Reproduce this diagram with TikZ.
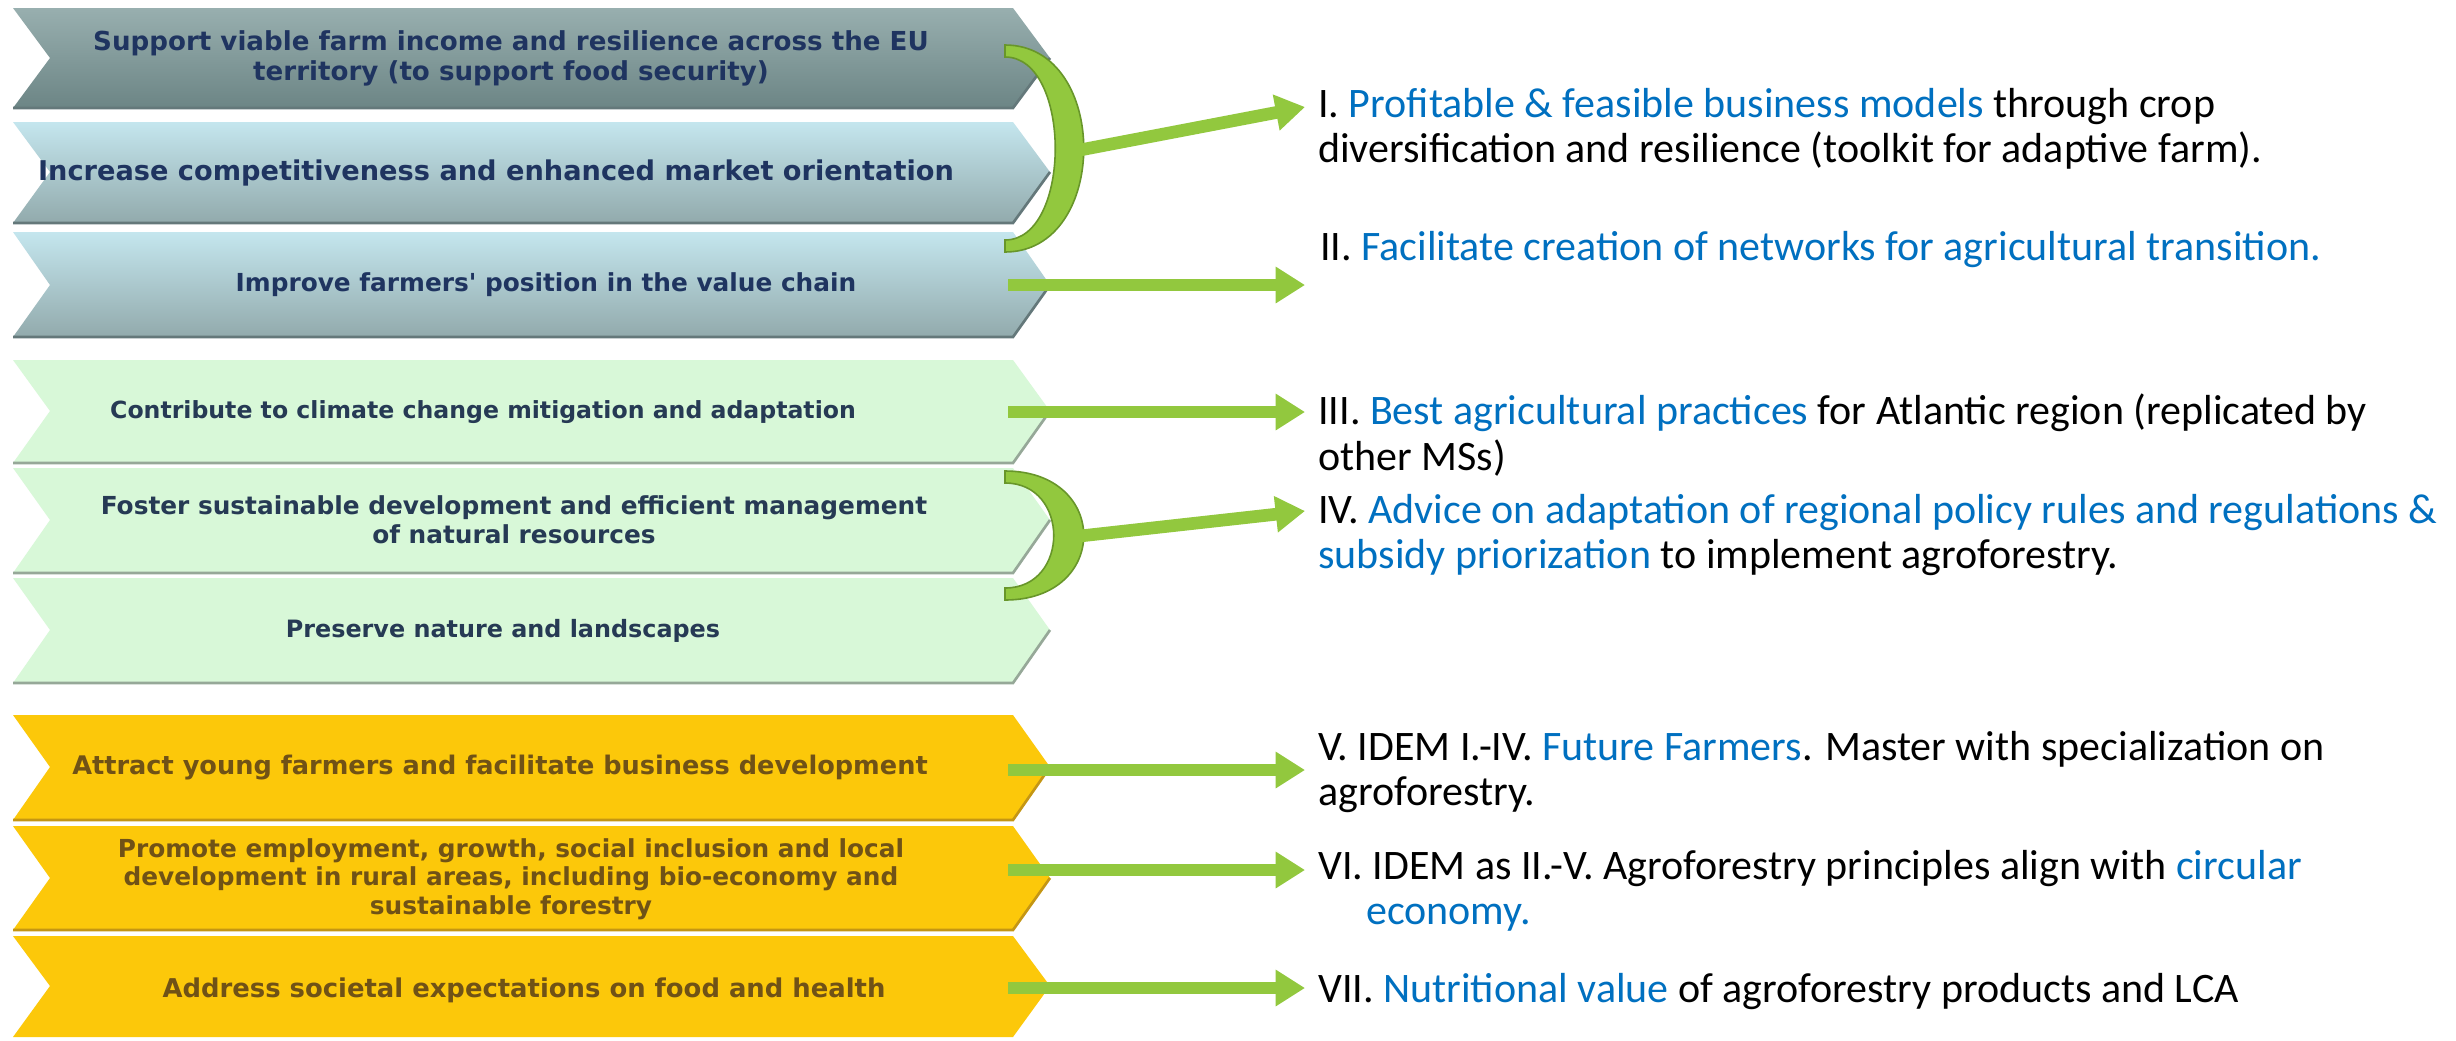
\documentclass[tikz,border=0pt]{standalone}
\usepackage{fontspec}
\setmainfont{Carlito}
\newfontfamily\goalfont{Carlito}
\newfontfamily\chevfont{DejaVu Sans}
\usetikzlibrary{arrows.meta}

\definecolor{goalblue}{RGB}{0,112,192}
\definecolor{arrowgreen}{RGB}{146,200,62}
\definecolor{bracketedge}{RGB}{104,150,42}
\definecolor{navytext}{RGB}{31,52,96}
\definecolor{slatetext}{RGB}{38,58,84}
\definecolor{browntext}{RGB}{112,82,22}
\definecolor{tealtop}{RGB}{152,175,175}
\definecolor{tealbot}{RGB}{108,133,133}
\definecolor{skytop}{RGB}{196,230,238}
\definecolor{skybot}{RGB}{146,170,172}
\definecolor{greyedge}{RGB}{100,120,122}
\definecolor{mintfill}{RGB}{216,248,216}
\definecolor{mintedge}{RGB}{150,168,152}
\definecolor{goldfill}{RGB}{252,200,10}
\definecolor{goldedge}{RGB}{196,150,20}

\tikzset{
  chevtext/.style={font=\chevfont\bfseries\fontsize{18.6}{21.5}\selectfont, text=navytext, align=center, inner sep=0pt},
  goaltext/.style={font=\goalfont\fontsize{31.5}{34}\selectfont, align=left, anchor=north west, inner sep=0pt},
  greenarrow/.style={draw=arrowgreen, line width=9.5pt, -{Triangle[length=22pt,width=26pt]}},
  crescent/.style={fill=arrowgreen, draw=bracketedge, line width=1.2pt},
  chevshadow/.style={line width=2pt}
}

\begin{document}
\begin{tikzpicture}[x=0.75pt,y=0.75pt,yscale=-1,xscale=1]
\useasboundingbox (0,0) rectangle (2456,1040);
\fill[white] (0,0) rectangle (2456,1040);

%Shape: Chevron [row 1]
\path[top color=tealtop, bottom color=tealbot] (13,8) -- (1013,8) -- (1050,58) -- (1013,108) -- (13,108) -- (50,58) -- cycle;
\draw[chevshadow, draw=greyedge] (13,108) -- (1013,108) -- (1050,58);
%Shape: Chevron [row 2]
\path[top color=skytop, bottom color=skybot] (13,122) -- (1013,122) -- (1050,172) -- (1013,223) -- (13,223) -- (50,172) -- cycle;
\draw[chevshadow, draw=greyedge] (13,223) -- (1013,223) -- (1050,172);
%Shape: Chevron [row 3]
\path[top color=skytop, bottom color=skybot] (13,232) -- (1013,232) -- (1050,285) -- (1013,337) -- (13,337) -- (50,285) -- cycle;
\draw[chevshadow, draw=greyedge] (13,337) -- (1013,337) -- (1050,285);
%Shape: Chevron [row 4]
\fill[mintfill] (13,360) -- (1013,360) -- (1050,411) -- (1013,463) -- (13,463) -- (50,411) -- cycle;
\draw[chevshadow, draw=mintedge] (13,463) -- (1013,463) -- (1050,411);
%Shape: Chevron [row 5]
\fill[mintfill] (13,468) -- (1013,468) -- (1050,520) -- (1013,573) -- (13,573) -- (50,520) -- cycle;
\draw[chevshadow, draw=mintedge] (13,573) -- (1013,573) -- (1050,520);
%Shape: Chevron [row 6]
\fill[mintfill] (13,578) -- (1013,578) -- (1050,630) -- (1013,683) -- (13,683) -- (50,630) -- cycle;
\draw[chevshadow, draw=mintedge] (13,683) -- (1013,683) -- (1050,630);
%Shape: Chevron [row 7]
\fill[goldfill] (13,715) -- (1013,715) -- (1050,767) -- (1013,820) -- (13,820) -- (50,767) -- cycle;
\draw[chevshadow, draw=goldedge] (13,820) -- (1013,820) -- (1050,767);
%Shape: Chevron [row 8]
\fill[goldfill] (13,826) -- (1013,826) -- (1050,878) -- (1013,930) -- (13,930) -- (50,878) -- cycle;
\draw[chevshadow, draw=goldedge] (13,930) -- (1013,930) -- (1050,878);
%Shape: Chevron [row 9]
\fill[goldfill] (13,936) -- (1013,936) -- (1050,986) -- (1013,1037) -- (13,1037) -- (50,986) -- cycle;

% Text Node
\node[chevtext, font=\chevfont\bfseries\fontsize{19.6}{22.5}\selectfont] (c1) at (511,58) {Support viable farm income and resilience across the EU\\territory (to support food security)};
% Text Node
\node[chevtext, font=\chevfont\bfseries\fontsize{20.4}{24}\selectfont] (c2) at (496,173) {Increase competitiveness and enhanced market orientation};
% Text Node
\node[chevtext] (c3) at (546,285) {Improve farmers' position in the value chain};
% Text Node
\node[chevtext, text=slatetext, font=\chevfont\bfseries\fontsize{17.7}{21}\selectfont] (c4) at (483,412) {Contribute to climate change mitigation and adaptation};
% Text Node
\node[chevtext, text=slatetext] (c5) at (514,520) {Foster sustainable development and efficient management\\of natural resources};
% Text Node
\node[chevtext, text=slatetext, font=\chevfont\bfseries\fontsize{17.9}{21}\selectfont] (c6) at (503,631) {Preserve nature and landscapes};
% Text Node
\node[chevtext, text=browntext, font=\chevfont\bfseries\fontsize{19.2}{22}\selectfont] (c7) at (500,768) {Attract young farmers and facilitate business development};
% Text Node
\node[chevtext, text=browntext] (c8) at (511,879) {Promote employment, growth, social inclusion and local\\development in rural areas, including bio-economy and\\sustainable forestry};
% Text Node
\node[chevtext, text=browntext, font=\chevfont\bfseries\fontsize{19.4}{22}\selectfont] (c9) at (524,990) {Address societal expectations on food and health};

%Shape: Crescent [rows 1-2]
\draw[crescent] (1005,45) .. controls (1110,45) and (1110,252) .. (1005,252) -- (1005,240) .. controls (1072,240) and (1072,57) .. (1005,57) -- cycle;
%Shape: Crescent [rows 5-6]
\draw[crescent] (1005,471) .. controls (1110,471) and (1110,600) .. (1005,600) -- (1005,588) .. controls (1070,588) and (1070,483) .. (1005,483) -- cycle;

\coordinate (b1) at (1080,150);
\coordinate (s2) at (1008,285);
\coordinate (s3) at (1008,412);
\coordinate (b4) at (1080,536);
\coordinate (s5) at (1008,770);
\coordinate (s6) at (1008,870);
\coordinate (s7) at (1008,988);
\coordinate (e1) at (1305,107);
\coordinate (e2) at (1305,285);
\coordinate (e3) at (1305,412);
\coordinate (e4) at (1305,511);
\coordinate (e5) at (1305,770);
\coordinate (e6) at (1305,870);
\coordinate (e7) at (1305,988);

% Arrows
\draw[greenarrow] (b1) -- (e1);
\draw[greenarrow] (s2) -- (e2);
\draw[greenarrow] (s3) -- (e3);
\draw[greenarrow] (b4) -- (e4);
\draw[greenarrow] (s5) -- (e5);
\draw[greenarrow] (s6) -- (e6);
\draw[greenarrow] (s7) -- (e7);

% Text Node
\node[goaltext] (t1) at (1318,88) {I. \textcolor{goalblue}{Profitable \& feasible business models} through crop\\diversification and resilience (toolkit for adaptive farm).};
% Text Node
\node[goaltext] (t2) at (1320,231) {II. \textcolor{goalblue}{Facilitate creation of networks for agricultural transition.}};
% Text Node
\node[goaltext] (t3) at (1318,394) {III. \textcolor{goalblue}{Best agricultural practices} for Atlantic region (replicated by\\other MSs)};
% Text Node
\node[goaltext] (t4) at (1318,494) {IV. \textcolor{goalblue}{Advice on adaptation of regional policy rules and regulations \&}\\\textcolor{goalblue}{subsidy priorization} to implement agroforestry.};
% Text Node
\node[goaltext] (t5) at (1318,731) {V. IDEM I.-IV. \textcolor{goalblue}{Future Farmers}. Master with specialization on\\agroforestry.};
% Text Node
\node[goaltext] (t6) at (1318,850) {VI. IDEM as II.-V. Agroforestry principles align with \textcolor{goalblue}{circular}\\\hspace*{36pt}\textcolor{goalblue}{economy.}};
% Text Node
\node[goaltext] (t7) at (1318,973) {VII. \textcolor{goalblue}{Nutritional value} of agroforestry products and LCA};

\end{tikzpicture}
\end{document}
